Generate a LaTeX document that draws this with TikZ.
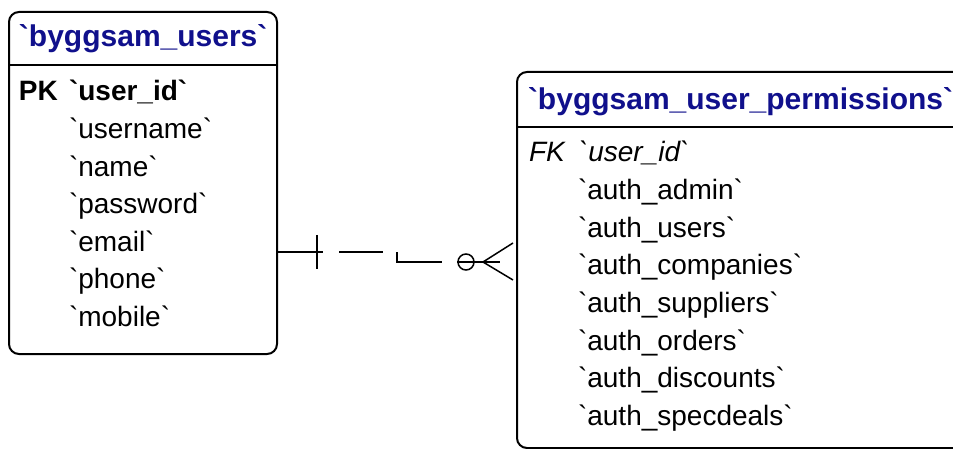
\documentclass[tikz,border=0pt]{standalone}
\usepackage{fontspec}
\newfontfamily\erfont{Liberation Sans}
\usetikzlibrary{calc}
\definecolor{titreer}{RGB}{16,16,140}

\begin{document}
\begin{tikzpicture}[x=1pt, y=-1pt, line width=2pt,
        entite/.style={draw, rounded corners=10pt, inner sep=0pt, outer sep=0pt},
        champ/.style={anchor=base west, inner sep=0pt, font=\erfont\fontsize{28}{30}\selectfont},
        cle/.style={champ, font=\erfont\fontsize{28}{30}\selectfont\bfseries},
        cleetr/.style={champ, font=\erfont\fontsize{28}{30}\selectfont\itshape},
        titre/.style={champ, font=\erfont\fontsize{30}{32}\selectfont\bfseries, text=titreer}]
    \useasboundingbox (0,0) rectangle (953,449);
    \clip (0,0) rectangle (953,449);
    % les deux tables, celle de droite sort de l'image
    \node[entite, minimum width=268, minimum height=342] (users) at (143,183) {};
    \node[entite, minimum width=460, minimum height=376] (perms) at (747,260) {};
    \draw ($(users.north west)+(0,53)$) -- ($(users.north east)+(0,53)$);
    \draw ($(perms.north west)+(0,55)$) -- ($(perms.north east)+(0,55)$);

    \node[titre] (userstitre) at (18,47) {`byggsam\_users`};
    \node[cle] (userspk) at (18,101) {PK};
    \node[cle] (usersid) at (68,101) {`user\_id`};
    \foreach \champ [count=\i from 0] in {username, name, password, email, phone, mobile} {
        \node[champ] (users-\i) at (68, {138.5+37.6*\i}) {`\champ`};
    }

    \node[titre] (permstitre) at (527,110) {`byggsam\_user\_permissions`};
    \node[cleetr] (permsfk) at (528,162) {FK};
    \node[cleetr] (permsid) at (578,162) {`user\_id`};
    \foreach \champ [count=\i from 1] in {auth\_admin, auth\_users, auth\_companies,
            auth\_suppliers, auth\_orders, auth\_discounts, auth\_specdeals} {
        \node[champ] (perms-\i) at (577, {162+37.6*\i}) {`\champ`};
    }

    % la relation
    \coordinate (depart) at ($(users.east)+(0,69)$);
    \coordinate (arrivee) at ($(perms.west)+(0,2)$);
    \coordinate (coude) at ($(depart)+(120,0)$);
    \draw[dash pattern=on 46pt off 16pt on 44pt off 14pt on 55pt off 15pt on 43pt off 40pt]
        (depart) -- (coude) -- (coude |- arrivee) -- (arrivee);
    \draw ($(depart)+(40,-17)$) -- ++(0,34);
    \draw[line width=1.5pt] ($(arrivee)+(-51,0)$) circle (8);
    \draw[line width=1.5pt] ($(arrivee)+(-4,-19)$) -- ($(arrivee)+(-34,0)$) -- ($(arrivee)+(-4,18)$);
\end{tikzpicture}
\end{document}
